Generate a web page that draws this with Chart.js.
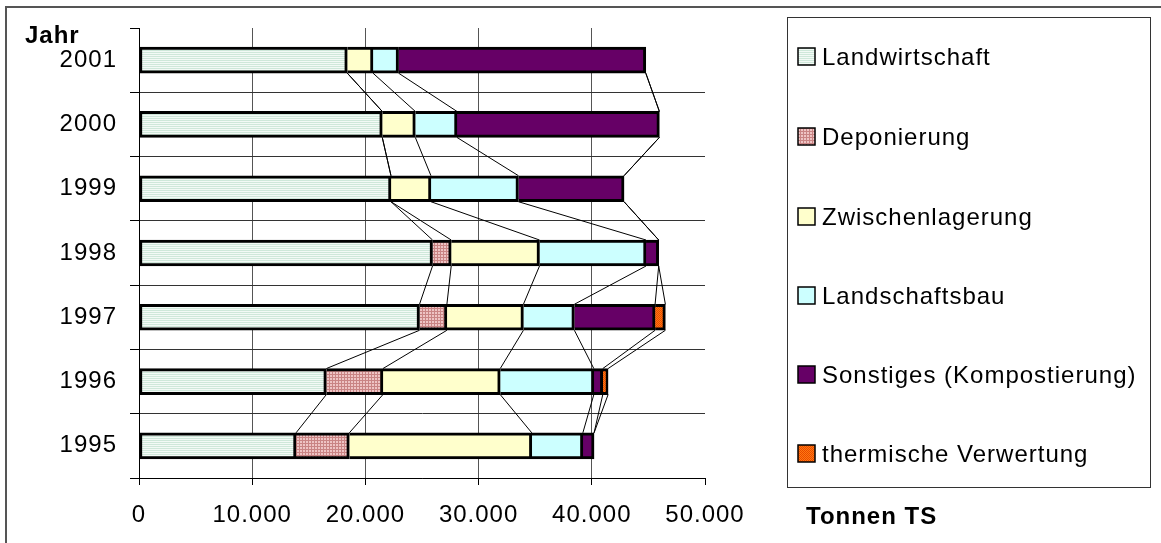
<!DOCTYPE html>
<html>
<head>
<meta charset="utf-8">
<script src="https://cdn.jsdelivr.net/npm/chart.js@4/dist/chart.umd.min.js"></script>
<style>
  html, body { margin: 0; padding: 0; background: #fff; }
  canvas { display: block; }
</style>
</head>
<body>
<canvas id="chart" width="1161" height="543"></canvas>
<script>
// Klärschlammverwertung, Tonnen TS je Jahr
const years = ['2001', '2000', '1999', '1998', '1997', '1996', '1995'];
const landwirtschaft   = [18400, 21490, 22260, 25930, 24780, 16550, 13870];
const deponierung      = [0, 0, 0, 1650, 2420, 5000, 4710];
const zwischenlagerung = [2270, 2920, 3530, 7800, 6760, 10360, 16120];
const landschaftsbau   = [2260, 3680, 7730, 9410, 4500, 8270, 4510];
const sonstiges        = [21840, 17880, 9330, 1120, 7130, 790, 990];
const thermisch        = [0, 0, 0, 0, 910, 470, 0];
const xTicks = [0, 10000, 20000, 30000, 40000, 50000];

const seriesNames = ['Landwirtschaft', 'Deponierung', 'Zwischenlagerung',
  'Landschaftsbau', 'Sonstiges (Kompostierung)', 'thermische Verwertung'];
const seriesData = [landwirtschaft, deponierung, zwischenlagerung,
  landschaftsbau, sonstiges, thermisch];

const FONT = 'Liberation Sans, Arial, sans-serif';

// kleine Musterfüllungen wie im Excel-Original
function makePattern(w, h, paint) {
  const c = document.createElement('canvas');
  c.width = w; c.height = h;
  const g = c.getContext('2d');
  paint(g);
  return g.createPattern(c, 'repeat');
}
const patLandwirtschaft = makePattern(2, 2, g => {
  g.fillStyle = '#f3faf6'; g.fillRect(0, 0, 2, 2);
  g.fillStyle = '#cfe8da'; g.fillRect(0, 0, 2, 1);
});
const patDeponierung = makePattern(3, 3, g => {
  g.fillStyle = '#c98484'; g.fillRect(0, 0, 3, 3);
  g.fillStyle = '#eec4c4'; g.fillRect(0, 0, 2, 2);
});
const patThermisch = makePattern(2, 2, g => {
  g.fillStyle = '#ff7a10'; g.fillRect(0, 0, 2, 2);
  g.fillStyle = '#e84800'; g.fillRect(0, 0, 1, 1); g.fillRect(1, 1, 1, 1);
});
const fills = [patLandwirtschaft, patDeponierung, '#ffffcc', '#ccffff', '#660066', patThermisch];

const fmt = v => String(v).replace(/\B(?=(\d{3})+(?!\d))/g, '.');

// Verbindungslinien zwischen den Balken (Reihenlinien)
const seriesLines = {
  id: 'seriesLines',
  afterDatasetsDraw(chart) {
    const ctx = chart.ctx;
    const xs = chart.scales.x;
    const ys = chart.scales.y;
    const half = 13;
    ctx.save();
    ctx.strokeStyle = '#000';
    ctx.lineWidth = 1;
    for (let d = 0; d < seriesData.length; d++) {
      for (let i = 0; i < years.length - 1; i++) {
        let c1 = 0, c2 = 0;
        for (let k = 0; k <= d; k++) { c1 += seriesData[k][i]; c2 += seriesData[k][i + 1]; }
        const x1 = xs.getPixelForValue(c1);
        const x2 = xs.getPixelForValue(c2);
        const y1 = ys.getPixelForValue(i) + half;
        const y2 = ys.getPixelForValue(i + 1) - half;
        ctx.beginPath();
        ctx.moveTo(x1, y1);
        ctx.lineTo(x2, y2);
        ctx.stroke();
      }
    }
    ctx.restore();
  }
};

// Legende, Achsentitel und Rahmen
const extras = {
  id: 'extras',
  beforeDraw(chart) {
    chart.ctx.letterSpacing = '1px';
  },
  afterDraw(chart) {
    const ctx = chart.ctx;
    ctx.save();
    ctx.letterSpacing = '1px';
    // äußerer Rahmen
    ctx.strokeStyle = '#555';
    ctx.lineWidth = 2;
    ctx.strokeRect(6, 7, 1170, 560);
    // Legendenrahmen
    ctx.strokeStyle = '#333';
    ctx.lineWidth = 1;
    ctx.strokeRect(787.5, 17.5, 363, 470);
    const rowsY = [56, 136, 216, 295, 374, 453];
    ctx.font = '24px ' + FONT;
    ctx.fillStyle = '#000';
    ctx.textBaseline = 'alphabetic';
    seriesNames.forEach((name, i) => {
      const cy = rowsY[i];
      ctx.fillStyle = fills[i];
      ctx.fillRect(798, cy - 8, 17, 17);
      ctx.strokeStyle = '#000';
      ctx.lineWidth = 1.5;
      ctx.strokeRect(798, cy - 8, 17, 17);
      ctx.fillStyle = '#000';
      ctx.fillText(name, 822, cy + 9);
    });
    ctx.font = 'bold 24px ' + FONT;
    ctx.fillText('Jahr', 25, 43);
    ctx.fillText('Tonnen TS', 806, 524);
    ctx.restore();
  }
};

const datasets = seriesNames.map((name, i) => ({
  label: name,
  data: seriesData[i].map(v => v === 0 ? null : v),
  backgroundColor: fills[i],
  borderColor: '#000',
  borderWidth: 3,
  borderSkipped: i === 0 ? false : 'start',
  barThickness: 26
}));

new Chart(document.getElementById('chart'), {
  type: 'bar',
  data: { labels: years, datasets: datasets },
  options: {
    indexAxis: 'y',
    responsive: false,
    animation: false,
    layout: { padding: { top: 28, right: 456, left: 0, bottom: 0 } },
    plugins: { legend: { display: false }, tooltip: { enabled: false } },
    scales: {
      x: {
        stacked: true,
        min: 0,
        max: 50000,
        afterBuildTicks: s => { s.ticks = xTicks.map(v => ({ value: v })); },
        afterFit: s => { s.height = 65; },
        ticks: {
          callback: v => fmt(v),
          font: { family: FONT, size: 24 },
          color: '#000',
          padding: 16,
          maxRotation: 0,
          autoSkip: false
        },
        grid: {
          color: c => c.index === xTicks.length - 1 ? 'rgba(0,0,0,0)' : '#555',
          tickColor: '#000',
          tickLength: 7
        },
        border: { color: '#000', width: 1 }
      },
      y: {
        stacked: true,
        afterFit: s => { s.width = 139; },
        ticks: {
          font: { family: FONT, size: 24 },
          color: '#000',
          padding: 13
        },
        grid: {
          offset: true,
          color: c => c.index === 0 ? 'rgba(0,0,0,0)' : '#333',
          tickColor: '#000',
          tickLength: 9
        },
        border: { color: '#000', width: 1 }
      }
    }
  },
  plugins: [seriesLines, extras]
});
</script>
</body>
</html>
